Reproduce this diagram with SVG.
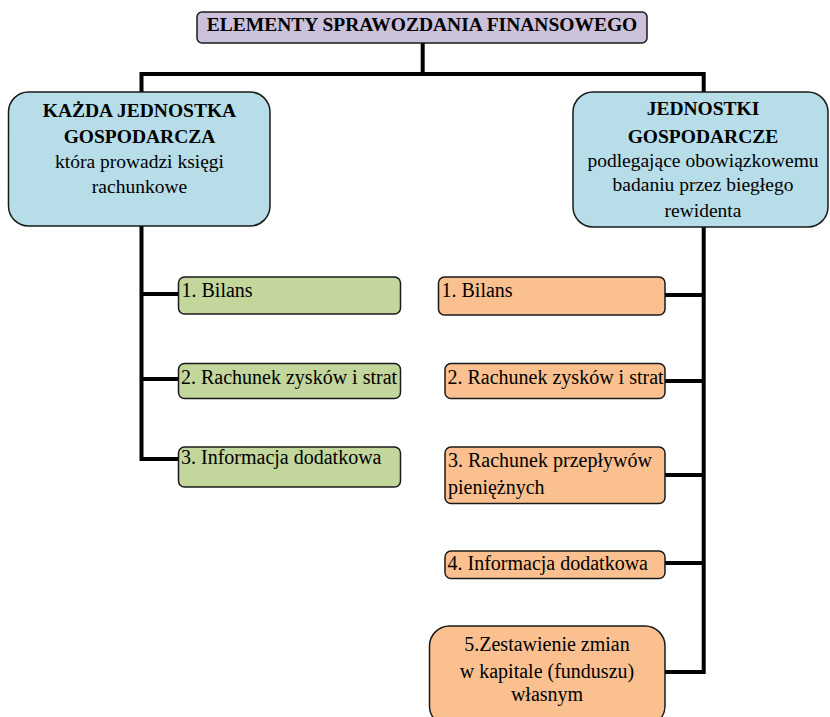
<svg xmlns="http://www.w3.org/2000/svg" width="830" height="717" viewBox="0 0 830 717">
<style>
.box{stroke:#1a1a1a;stroke-width:1.5}
.title{fill:#CCC1DA}
.blue{fill:#B7DDE8}
.green{fill:#C3D69B}
.orange{fill:#FAC090}
.conn{fill:none;stroke:#000;stroke-width:4}
text{font-family:'Liberation Serif','DejaVu Serif',serif;fill:#000}
.b{font-weight:bold}
.t{font-size:19.5px}
.h{font-size:19.5px}
.r{font-size:19.5px}
.s{font-size:20px}
.c{text-anchor:middle}
</style>
<rect width="830" height="717" fill="#fff"/>
<g id="connectors">
<path class="conn" d="M422.7,43 V74"/>
<path class="conn" d="M141.5,92 V74 H703.7 V92"/>
<path class="conn" d="M141.5,226 V459 H178"/>
<path class="conn" d="M141.5,294 H178"/>
<path class="conn" d="M141.5,379 H178"/>
<path class="conn" d="M703.7,227 V672 H665"/>
<path class="conn" d="M703.7,295 H665"/>
<path class="conn" d="M703.7,381 H665"/>
<path class="conn" d="M703.7,475 H665"/>
<path class="conn" d="M703.7,563 H665"/>
</g>
<g id="title">
<rect class="box title" x="197" y="12" width="450" height="31" rx="5"/>
<text class="b t c" x="422" y="31">ELEMENTY SPRAWOZDANIA FINANSOWEGO</text>
</g>
<g id="left-head">
<rect class="box blue" x="8.5" y="92" width="261.5" height="134" rx="20"/>
<text class="b h c" x="139.5" y="117">KAŻDA JEDNOSTKA</text>
<text class="b h c" x="139.5" y="143">GOSPODARCZA</text>
<text class="r c" x="139.5" y="168">która prowadzi księgi</text>
<text class="r c" x="139.5" y="193">rachunkowe</text>
</g>
<g id="right-head">
<rect class="box blue" x="573" y="92" width="255" height="135" rx="20"/>
<text class="b h c" x="703" y="115">JEDNOSTKI</text>
<text class="b h c" x="703" y="143">GOSPODARCZE</text>
<text class="r c" x="703" y="167">podlegające obowiązkowemu</text>
<text class="r c" x="703" y="191">badaniu przez biegłego</text>
<text class="r c" x="703" y="217">rewidenta</text>
</g>
<g id="l1">
<rect class="box green" x="178.5" y="277" width="222" height="37" rx="6"/>
<text class="s" x="181.5" y="297">1. Bilans</text>
</g>
<g id="l2">
<rect class="box green" x="178.5" y="363.5" width="222" height="35" rx="6"/>
<text class="s" x="181" y="383.5">2. Rachunek zysków i strat</text>
</g>
<g id="l3">
<rect class="box green" x="178.5" y="447" width="222" height="40" rx="6"/>
<text class="s" x="181" y="463.5">3. Informacja dodatkowa</text>
</g>
<g id="r1">
<rect class="box orange" x="438.5" y="277" width="226.5" height="38" rx="6"/>
<text class="s" x="441.5" y="297">1. Bilans</text>
</g>
<g id="r2">
<rect class="box orange" x="445" y="363.5" width="220" height="35" rx="6"/>
<text class="s" x="447.5" y="383.5">2. Rachunek zysków i strat</text>
</g>
<g id="r3">
<rect class="box orange" x="445" y="447" width="220" height="56.5" rx="6"/>
<text class="s" x="448" y="467">3. Rachunek przepływów</text>
<text class="s" x="448" y="493.5">pieniężnych</text>
</g>
<g id="r4">
<rect class="box orange" x="445" y="551" width="220" height="27.5" rx="6"/>
<text class="s" x="447.5" y="570">4. Informacja dodatkowa</text>
</g>
<g id="r5">
<rect class="box orange" x="429.5" y="626" width="235.5" height="100" rx="20"/>
<text class="s c" x="547" y="651">5.Zestawienie zmian</text>
<text class="s c" x="547" y="677.5">w kapitale (funduszu)</text>
<text class="s c" x="547" y="701">własnym</text>
</g>
</svg>
